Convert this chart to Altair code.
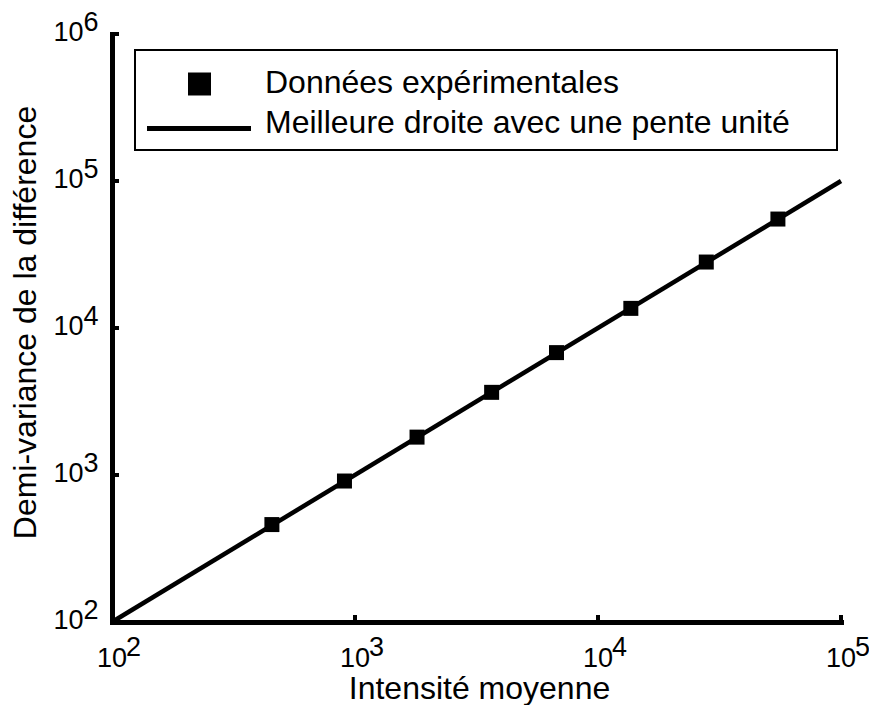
import altair as alt
import pandas as pd

# ---- data ----
x_vals = [455, 905, 1800, 3650, 6750, 13650, 27900, 55000]
y_vals = [460, 910, 1810, 3650, 6800, 13600, 28100, 55100]
fit_x = [100, 100000]
fit_y = [100, 100000]
x_ticks = [100, 1000, 10000, 100000]
x_exps = ["2", "3", "4", "5"]
y_ticks = [100, 1000, 10000, 100000, 1000000]
y_exps = ["2", "3", "4", "5", "6"]
legend_labels = ["Données expérimentales", "Meilleure droite avec une pente unité"]
x_title = "Intensité moyenne"
y_title = "Demi-variance de la différence"

WORD_FONT = "Liberation Sans"
DIGIT_FONT = "Liberation Sans"
WORD_SIZE = 32
W, H = 729, 588

xs = alt.Scale(type="log", domain=[100, 100000], nice=False)
ys = alt.Scale(type="log", domain=[100, 1000000], nice=False)

xaxis = alt.Axis(
    title=x_title, labels=False, ticks=False, grid=False,
    domainColor="black", domainWidth=5, domainCap="square",
    titleFont=WORD_FONT, titleFontSize=WORD_SIZE, titleFontWeight="normal",
    titleColor="black", titleX=367, titleY=76,
    titleBaseline="alphabetic", titleAlign="center",
)
yaxis = alt.Axis(
    title=y_title, labels=False, ticks=False, grid=False,
    domainColor="black", domainWidth=5, domainCap="square",
    titleFont=WORD_FONT, titleFontSize=WORD_SIZE, titleFontWeight="normal",
    titleColor="black", titleX=-77, titleY=288, titleAngle=270,
    titleBaseline="alphabetic", titleAlign="center",
)

X = alt.X("x:Q", scale=xs, axis=xaxis)
Y = alt.Y("y:Q", scale=ys, axis=yaxis)

points = pd.DataFrame({"x": x_vals, "y": y_vals})
fit = pd.DataFrame({"x": fit_x, "y": fit_y})
xt = pd.DataFrame({"x": x_ticks, "e": x_exps})
yt = pd.DataFrame({"y": y_ticks, "e": y_exps})
one = pd.DataFrame({"k": [0]})

line = alt.Chart(fit).mark_line(color="black", strokeWidth=4.5).encode(x=X, y=Y)
pts = alt.Chart(points).mark_square(size=225, color="black", opacity=1).encode(x=X, y=Y)

xtick = alt.Chart(xt).mark_rule(color="black", strokeWidth=4).encode(
    x=X, y=alt.value(H), y2=alt.value(H - 7))
ytick = alt.Chart(yt).mark_rule(color="black", strokeWidth=4).encode(
    y=Y, x=alt.value(0), x2=alt.value(7))

xlab10 = alt.Chart(xt).mark_text(
    text="10", font=DIGIT_FONT, fontSize=27, align="center", baseline="alphabetic", color="black"
).encode(x=X, y=alt.value(H + 45))
xlabexp = alt.Chart(xt).mark_text(
    font=DIGIT_FONT, fontSize=27, align="left", baseline="alphabetic", color="black", dx=14
).encode(x=X, y=alt.value(H + 34), text="e:N")

ylab10 = alt.Chart(yt).mark_text(
    text="10", font=DIGIT_FONT, fontSize=27, align="right", baseline="alphabetic", color="black", dy=7
).encode(y=Y, x=alt.value(-28.5))
ylabexp = alt.Chart(yt).mark_text(
    font=DIGIT_FONT, fontSize=27, align="left", baseline="alphabetic", color="black", dy=-3
).encode(y=Y, x=alt.value(-28.5), text="e:N")

# legend box and entries
lbox = alt.Chart(one).mark_rect(fill="white", stroke="black", strokeWidth=2).encode(
    x=alt.value(23), x2=alt.value(725), y=alt.value(16), y2=alt.value(116))
lsq = alt.Chart(one).mark_square(size=529, color="black", opacity=1).encode(
    x=alt.value(87.5), y=alt.value(50))
lline = alt.Chart(one).mark_rule(color="black", strokeWidth=5).encode(
    x=alt.value(35), x2=alt.value(139), y=alt.value(94.5))
ltxt1 = alt.Chart(one).mark_text(
    text=legend_labels[0], font=WORD_FONT, fontSize=WORD_SIZE, align="left", baseline="alphabetic", color="black"
).encode(x=alt.value(153), y=alt.value(59))
ltxt2 = alt.Chart(one).mark_text(
    text=legend_labels[1], font=WORD_FONT, fontSize=WORD_SIZE, align="left", baseline="alphabetic", color="black"
).encode(x=alt.value(153), y=alt.value(99))

chart = alt.layer(
    line, pts, xtick, ytick, xlab10, xlabexp, ylab10, ylabexp,
    lbox, lsq, lline, ltxt1, ltxt2
).properties(
    width=W, height=H,
    autosize=alt.AutoSizeParams(type="none"),
    padding={"left": 104, "top": 26, "right": 28, "bottom": 83},
    background="white",
).configure_view(stroke=None)

chart.save("out.html", embed_options={"renderer": "svg", "actions": False})
